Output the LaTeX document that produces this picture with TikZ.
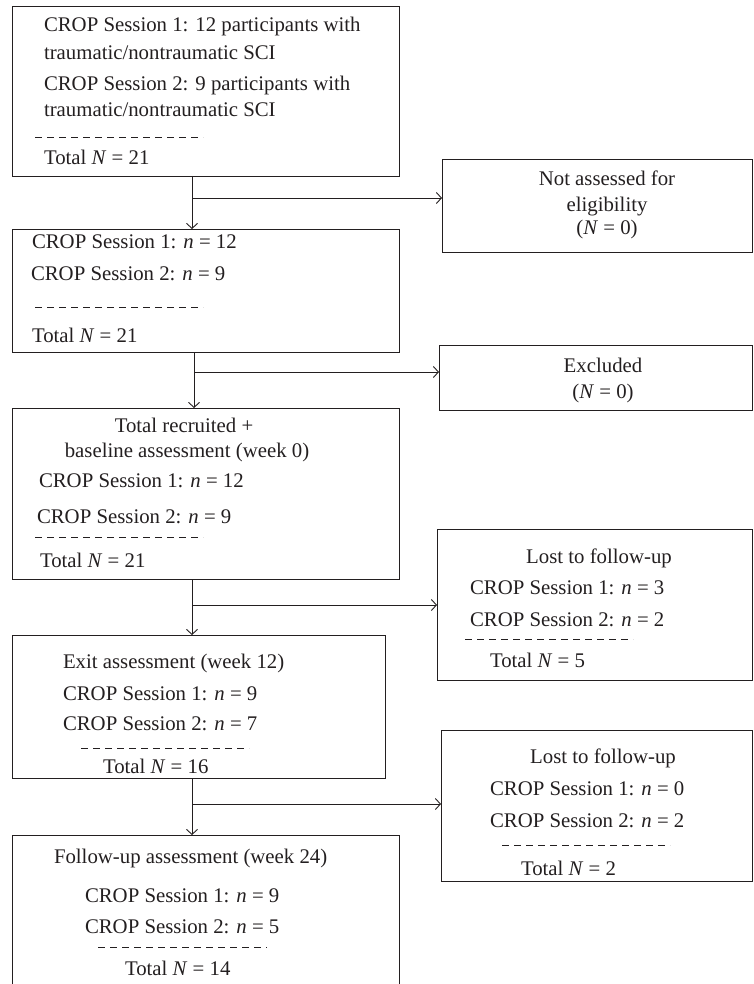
\documentclass[tikz,border=0pt]{standalone}
\usepackage{fontspec}
\setmainfont{Liberation Serif}
\usetikzlibrary{arrows.meta}
\definecolor{ink}{HTML}{231F20}
\tikzset{
  box/.style={draw=ink, line width=0.9pt, inner sep=0pt, outer sep=0pt},
  txt/.style={inner sep=0pt, outer sep=0pt, text=ink, font=\fontsize{20.8}{25}\selectfont},
  lt/.style={txt, anchor=base west},
  ct/.style={txt, anchor=base},
  arr/.style={draw=ink, line width=0.9pt, -{Straight Barb[length=5pt,width=11pt]}},
  conn/.style={draw=ink, line width=0.9pt},
  dashline/.style={draw=ink, line width=0.9pt, dash pattern=on 7pt off 5pt}
}
\begin{document}
\begin{tikzpicture}[x=1pt,y=-1pt]
\useasboundingbox (0,0) rectangle (753,984);
\clip (0,0) rectangle (753,984);
% boxes
\node[box, minimum width=387pt, minimum height=170pt] (A) at (205.5,91) {};
\node[box, minimum width=387pt, minimum height=123pt] (B) at (205.5,290.5) {};
\node[box, minimum width=310pt, minimum height=93pt] (NA) at (597,205.5) {};
\node[box, minimum width=387pt, minimum height=171pt] (C) at (205.5,493.5) {};
\node[box, minimum width=313pt, minimum height=65pt] (EX) at (595.5,377.5) {};
\node[box, minimum width=315pt, minimum height=151pt] (L1) at (594.5,604.5) {};
\node[box, minimum width=373pt, minimum height=143pt] (D) at (198.5,706.5) {};
\node[box, minimum width=311pt, minimum height=151pt] (L2) at (596.5,805.5) {};
\node[box, minimum width=387pt, minimum height=160pt] (E) at (205.5,915) {};
% box A text
\node[lt] (a1) at (44,31.5) {CROP Session 1: 12 participants with};
\node[lt] (a2) at (44,60) {traumatic/nontraumatic SCI};
\node[lt] (a3) at (44,91) {CROP Session 2: 9 participants with};
\node[lt] (a4) at (44,116.5) {traumatic/nontraumatic SCI};
\draw[dashline] (35,137) -- (203,137);
\node[lt] (a5) at (44,165) {Total \textit{N} = 21};
% box B text
\node[lt] (b1) at (32,248) {CROP Session 1: \textit{n} = 12};
\node[lt] (b2) at (31,280) {CROP Session 2: \textit{n} = 9};
\draw[dashline] (35,307) -- (203,307);
\node[lt] (b3) at (32,342) {Total \textit{N} = 21};
% not assessed
\node[ct] (na1) at (607,186) {Not assessed for};
\node[ct] (na2) at (607,212) {eligibility};
\node[ct] (na3) at (607,235) {(\textit{N} = 0)};
% box C text
\node[ct] (c1) at (184,432) {Total recruited +};
\node[ct] (c2) at (187,457) {baseline assessment (week 0)};
\node[lt] (c3) at (39,487) {CROP Session 1: \textit{n} = 12};
\node[lt] (c4) at (37,523) {CROP Session 2: \textit{n} = 9};
\draw[dashline] (35,537) -- (203,537);
\node[lt] (c5) at (40,567) {Total \textit{N} = 21};
% excluded
\node[ct] (ex1) at (603,372) {Excluded};
\node[ct] (ex2) at (603,398) {(\textit{N} = 0)};
% lost 1
\node[ct] (l11) at (599,563) {Lost to follow-up};
\node[lt] (l12) at (470,594) {CROP Session 1: \textit{n} = 3};
\node[lt] (l13) at (470,626) {CROP Session 2: \textit{n} = 2};
\draw[dashline] (465,639) -- (633,639);
\node[lt] (l14) at (490,667) {Total \textit{N} = 5};
% box D
\node[lt] (d1) at (63,668) {Exit assessment (week 12)};
\node[lt] (d2) at (63,700) {CROP Session 1: \textit{n} = 9};
\node[lt] (d3) at (63,730) {CROP Session 2: \textit{n} = 7};
\draw[dashline] (81,748) -- (249,748);
\node[lt] (d4) at (103,773) {Total \textit{N} = 16};
% lost 2
\node[ct] (l21) at (603,763) {Lost to follow-up};
\node[lt] (l22) at (490,795) {CROP Session 1: \textit{n} = 0};
\node[lt] (l23) at (490,827) {CROP Session 2: \textit{n} = 2};
\draw[dashline] (502,845) -- (670,845);
\node[lt] (l24) at (521,875) {Total \textit{N} = 2};
% box E
\node[lt] (e1) at (54,863) {Follow-up assessment (week 24)};
\node[lt] (e2) at (85,902) {CROP Session 1: \textit{n} = 9};
\node[lt] (e3) at (85,933) {CROP Session 2: \textit{n} = 5};
\draw[dashline] (98,947) -- (267,947);
\node[lt] (e4) at (125,975) {Total \textit{N} = 14};
% connectors
\coordinate (j1) at (192,198);
\coordinate (j2) at (194,372);
\coordinate (j3) at (192,605);
\coordinate (j4) at (192,804);
\draw[arr] (A.south -| j1) -- (B.north -| j1);
\draw[arr] (j1) -- (NA.west |- j1);
\draw[arr] (B.south -| j2) -- (C.north -| j2);
\draw[arr] (j2) -- (EX.west |- j2);
\draw[arr] (C.south -| j3) -- (D.north -| j3);
\draw[arr] (j3) -- (L1.west |- j3);
\draw[arr] (D.south -| j4) -- (E.north -| j4);
\draw[arr] (j4) -- (L2.west |- j4);
\end{tikzpicture}
\end{document}
